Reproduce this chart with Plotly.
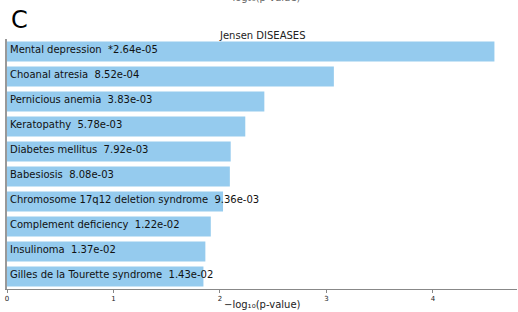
import plotly.graph_objects as go

terms = ["Mental depression", "Choanal atresia", "Pernicious anemia", "Keratopathy",
         "Diabetes mellitus", "Babesiosis", "Chromosome 17q12 deletion syndrome",
         "Complement deficiency", "Insulinoma", "Gilles de la Tourette syndrome"]
pvals = ["*2.64e-05", "8.52e-04", "3.83e-03", "5.78e-03", "7.92e-03", "8.08e-03",
         "9.36e-03", "1.22e-02", "1.37e-02", "1.43e-02"]
neglog = [4.578, 3.070, 2.417, 2.238, 2.101, 2.093, 2.029, 1.914, 1.863, 1.845]

FONT = "DejaVu Sans"
fig = go.Figure()
fig.add_trace(go.Bar(x=neglog, y=terms, orientation="h", marker_color="#95CBEE",
                     marker_line_width=0, width=0.8, hoverinfo="skip"))
for t, p in zip(terms, pvals):
    fig.add_annotation(x=0, y=t, xref="x", yref="y", text=f"{t}  {p}", showarrow=False,
                       xanchor="left", yanchor="middle", xshift=1, yshift=2,
                       font=dict(family=FONT, size=10, color="#111"))
fig.add_annotation(x=0.5, y=1, xref="paper", yref="paper", yshift=4, text="Jensen DISEASES",
                   showarrow=False, xanchor="center", yanchor="middle",
                   font=dict(family=FONT, size=10, color="#222"))
fig.add_annotation(x=0.5, y=1, xref="paper", yref="paper", yshift=42, text="−log₁₀(p-value)",
                   showarrow=False, xanchor="center", yanchor="middle",
                   font=dict(family=FONT, size=10, color="#666"))
fig.add_annotation(x=0, y=1, xref="paper", yref="paper", xshift=2, yshift=3, text="C",
                   showarrow=False, xanchor="left", yanchor="bottom",
                   font=dict(family=FONT, size=24, color="black"))
fig.add_annotation(x=0.5, y=0, xref="paper", yref="paper", yshift=-15.5, text="−log₁₀(p-value)",
                   showarrow=False, xanchor="center", yanchor="middle",
                   font=dict(family=FONT, size=10, color="#222"))
fig.update_layout(
    width=518, height=312, margin=dict(l=7, r=1, t=39, b=23),
    plot_bgcolor="white", paper_bgcolor="white", showlegend=False,
    font=dict(family=FONT, color="black"),
    xaxis=dict(range=[0, 4.79], tickvals=[0, 1, 2, 3, 4], ticks="outside", ticklen=3,
               tickcolor="#888", tickfont=dict(size=7, family=FONT, color="#222"), showgrid=False,
               zeroline=False, showline=True, linecolor="#888", linewidth=1,
               automargin=False),
    yaxis=dict(showticklabels=False, ticks="", showgrid=False,
               zeroline=False, showline=True, linecolor="#999", linewidth=1.5,
               range=[9.5, -0.5], automargin=False),
)
fig.write_html("out.html", config={"displayModeBar": False},
               post_script="document.body.style.margin='0';document.body.style.overflow='hidden';")
